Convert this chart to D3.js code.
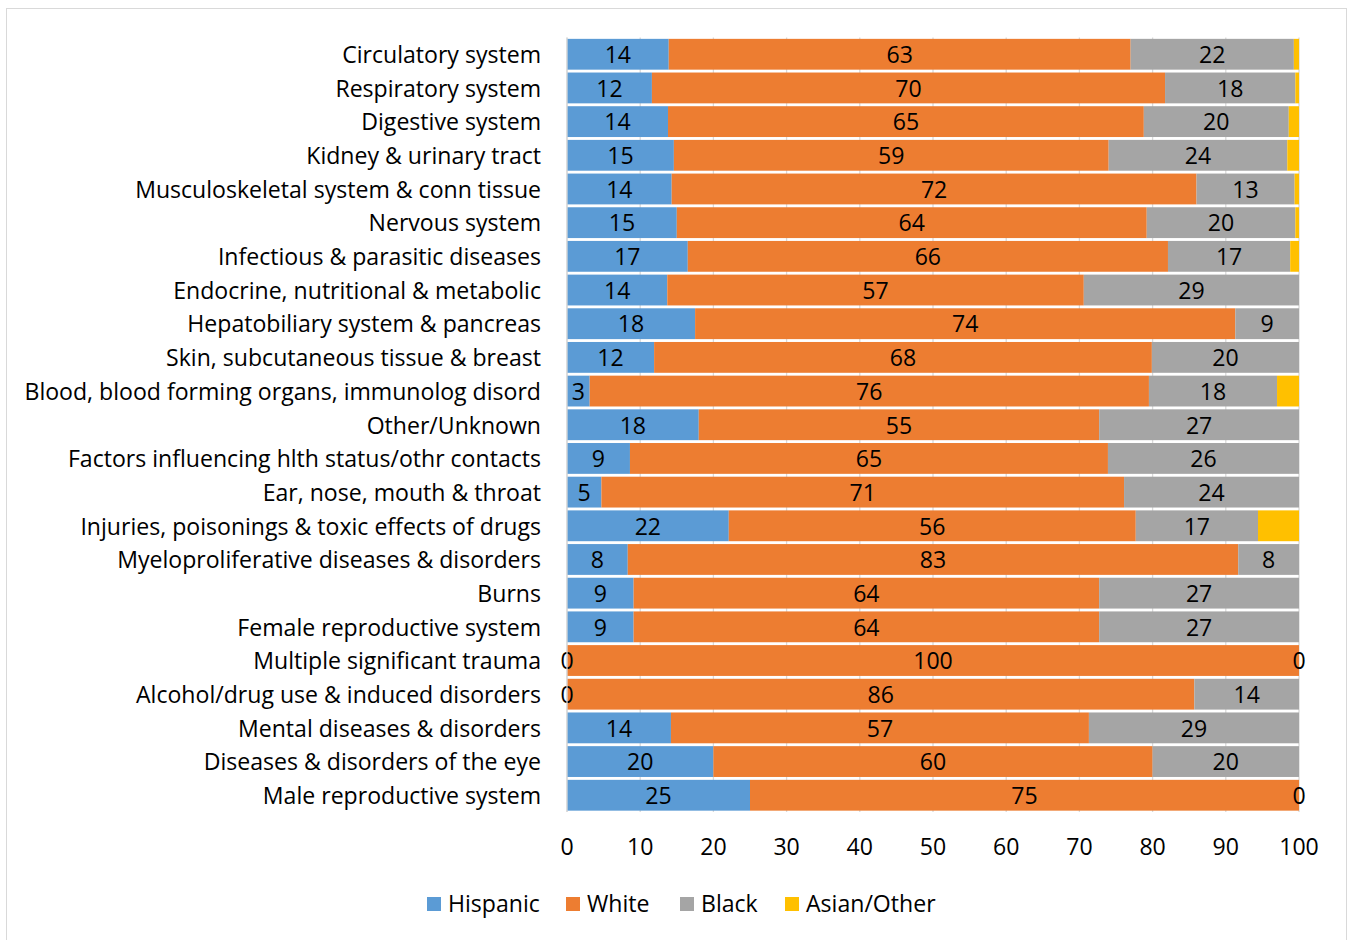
<!DOCTYPE html>
<html><head><meta charset="utf-8">
<script src="https://cdn.jsdelivr.net/npm/d3@7"></script>
<style>body{margin:0;background:#fff}svg{display:block}text{font-family:"Open Sans",Lato,sans-serif;fill:#000}</style>
</head><body><svg id="c" width="1349" height="940"></svg>
<script>
const categories = ["Circulatory system","Respiratory system","Digestive system","Kidney & urinary tract","Musculoskeletal system & conn tissue","Nervous system","Infectious & parasitic diseases","Endocrine, nutritional & metabolic","Hepatobiliary system & pancreas","Skin, subcutaneous tissue & breast","Blood, blood forming organs, immunolog disord","Other/Unknown","Factors influencing hlth status/othr contacts","Ear, nose, mouth & throat","Injuries, poisonings & toxic effects of drugs","Myeloproliferative diseases & disorders","Burns","Female reproductive system","Multiple significant trauma","Alcohol/drug use & induced disorders","Mental diseases & disorders","Diseases & disorders of the eye","Male reproductive system"];
const hispanic = [13.9,11.6,13.8,14.6,14.3,15.0,16.5,13.7,17.5,11.9,3.1,18.0,8.6,4.7,22.1,8.3,9.1,9.1,0,0,14.2,20,25];
const white    = [63.1,70.1,65.0,59.4,71.7,64.2,65.6,56.9,73.8,68.0,76.4,54.7,65.3,71.4,55.6,83.4,63.6,63.6,100,85.7,57.1,60,75];
const black    = [22.3,17.8,19.8,24.4,13.4,20.3,16.7,29.4,8.7,20.1,17.5,27.3,26.1,23.9,16.7,8.3,27.3,27.3,0,14.3,28.7,20,0];
const asian    = [0.7,0.5,1.4,1.6,0.6,0.5,1.2,0,0,0,3.0,0,0,0,5.6,0,0,0,0,0,0,0,0];
const seriesNames = ["Hispanic","White","Black","Asian/Other"];
const colors = ["#5b9bd5","#ed7d31","#a5a5a5","#ffc000"];
const xTicks = [0,10,20,30,40,50,60,70,80,90,100];

const svg = d3.select("#c");
svg.append("rect").attr("x",6.5).attr("y",8.5).attr("width",1340).attr("height",940).attr("fill","none").attr("stroke","#d9d9d9");

const L=567,R=1299,T=37.5,B=812;
const x = d3.scaleLinear().domain([0,100]).range([L,R]);
const y = d3.scaleBand().domain(categories).range([T,B]).paddingInner(0.085).paddingOuter(0.04);

// font size fitted to the reference label extent
const probe = svg.append("text").attr("font-size",22).text(categories[10]);
const fs = Math.min(23.5, Math.max(20, 22*517/probe.node().getComputedTextLength()));
probe.remove();

svg.append("g").selectAll("line").data(xTicks).join("line")
  .attr("x1",d=>x(d)).attr("x2",d=>x(d)).attr("y1",T).attr("y2",B)
  .attr("stroke","#d9d9d9").attr("stroke-width",1.3);

const rows = categories.map((c,i)=>({cat:c,Hispanic:hispanic[i],White:white[i],Black:black[i],"Asian/Other":asian[i]}));
const stack = d3.stack().keys(seriesNames)(rows);

const g = svg.append("g");
stack.forEach((s,si)=>{
  g.append("g").attr("fill",colors[si]).selectAll("rect").data(s).join("rect")
   .attr("x",d=>x(d[0])).attr("width",d=>Math.max(0,x(d[1])-x(d[0])))
   .attr("y",d=>y(d.data.cat)).attr("height",y.bandwidth());
});
stack.slice(0,3).forEach((s,si)=>{
  g.append("g").selectAll("text").data(s).join("text")
   .attr("x",d=>(x(d[0])+x(d[1]))/2).attr("y",d=>y(d.data.cat)+y.bandwidth()/2)
   .attr("dy","0.38em").attr("text-anchor","middle").attr("font-size",fs)
   .text(d=>Math.round(d[1]-d[0]));
});
svg.append("line").attr("x1",L).attr("x2",L).attr("y1",T).attr("y2",B).attr("stroke","#d9d9d9").attr("stroke-width",1.3);

svg.append("g").selectAll("text").data(categories).join("text")
  .attr("x",541).attr("y",d=>y(d)+y.bandwidth()/2).attr("dy","0.38em")
  .attr("text-anchor","end").attr("font-size",fs).text(d=>d);

svg.append("g").selectAll("text").data(xTicks).join("text")
  .attr("x",d=>x(d)).attr("y",855).attr("text-anchor","middle").attr("font-size",fs).text(d=>d);

const lg = svg.append("g");
const legX=[427,566,680,785];
seriesNames.forEach((n,i)=>{
  lg.append("rect").attr("x",legX[i]).attr("y",897).attr("width",14).attr("height",14).attr("fill",colors[i]);
  lg.append("text").attr("x",legX[i]+21).attr("y",912).attr("font-size",fs).text(n);
});
</script></body></html>
